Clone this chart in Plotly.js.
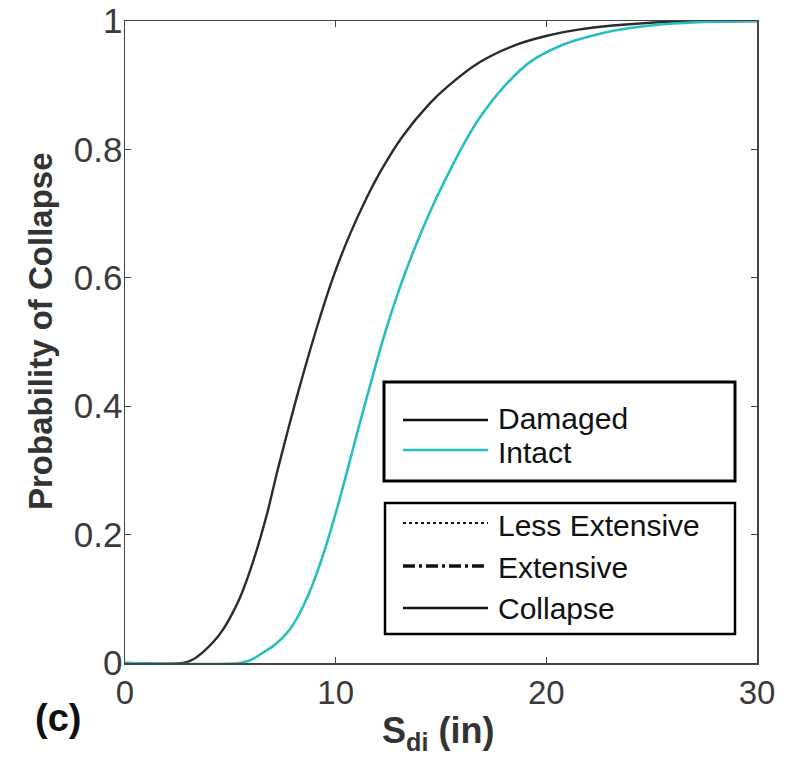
<!DOCTYPE html>
<html>
<head>
<meta charset="utf-8">
<script src="https://cdn.plot.ly/plotly-3.0.1.min.js"></script>
<style>html,body{margin:0;padding:0;background:#fff;}#chart{width:788px;height:760px;}</style>
</head>
<body>
<div id="chart"></div>
<script>
// Data
const damagedX = [0, 2.75, 3.2, 3.7, 4.2, 4.65, 5.06, 5.46, 6.08, 6.74, 7.21, 7.69, 8.16, 9.11, 9.87, 10.68, 11.49, 12.24, 13.19, 14.48, 15.28, 16.85, 18.41, 20.03, 21.59, 23.16, 24.77, 26.3, 30];
const damagedY = [0, 0, 0.005, 0.017, 0.033, 0.052, 0.075, 0.102, 0.158, 0.232, 0.296, 0.357, 0.415, 0.523, 0.6, 0.668, 0.726, 0.772, 0.821, 0.872, 0.897, 0.936, 0.961, 0.977, 0.987, 0.993, 0.997, 0.999, 1];
const intactX = [0, 5.46, 6.0, 6.55, 7.1, 7.69, 8.2, 8.78, 9.4, 10.06, 10.54, 11.01, 11.49, 12.24, 13.05, 13.86, 14.62, 15.42, 16.04, 16.85, 17.94, 19.22, 20.79, 22.4, 23.97, 25.53, 27.9, 30];
const intactY = [0, 0, 0.005, 0.016, 0.028, 0.047, 0.072, 0.112, 0.168, 0.24, 0.298, 0.357, 0.415, 0.503, 0.585, 0.655, 0.713, 0.767, 0.806, 0.85, 0.896, 0.936, 0.963, 0.979, 0.989, 0.995, 0.999, 1];
const xTicks = [0, 10, 20, 30];
const yTicks = [0, 0.2, 0.4, 0.6, 0.8, 1];
const yTickText = ['0', '0.2', '0.4', '0.6', '0.8', '1'];
const seriesNames = ['Damaged', 'Intact'];
const stateNames = ['Less Extensive', 'Extensive', 'Collapse'];

const BLACK = '#2b2b2b';
const CYAN = '#27bfbf';
const FONT = 'Liberation Sans, Arial, sans-serif';

// layout helpers (pixel -> paper)
const L = 125, R = 31, T = 21, B = 97, W = 788, H = 760;
const pw = W - L - R, ph = H - T - B;
const px = v => (v - L) / pw;
const py = v => (H - B - v) / ph;

const traces = [
  {x: damagedX, y: damagedY, name: seriesNames[0], mode: 'lines', line: {color: BLACK, width: 2.4, shape: 'spline', smoothing: 0.8}, showlegend: false},
  {x: intactX, y: intactY, name: seriesNames[1], mode: 'lines', line: {color: CYAN, width: 2.6, shape: 'spline', smoothing: 0.8}, showlegend: false}
];

const shapes = [
  {type: 'rect', xref: 'paper', yref: 'paper', x0: px(384), x1: px(735), y0: py(382), y1: py(481), line: {color: '#000', width: 3}, fillcolor: '#fff'},
  {type: 'rect', xref: 'paper', yref: 'paper', x0: px(385), x1: px(735), y0: py(503), y1: py(634), line: {color: '#000', width: 2.5}, fillcolor: '#fff'},
  {type: 'line', xref: 'paper', yref: 'paper', x0: px(403), x1: px(488), y0: py(420), y1: py(420), line: {color: '#111', width: 2.5}},
  {type: 'line', xref: 'paper', yref: 'paper', x0: px(403), x1: px(488), y0: py(450), y1: py(450), line: {color: CYAN, width: 2.5}},
  {type: 'line', xref: 'paper', yref: 'paper', x0: px(403), x1: px(488), y0: py(523), y1: py(523), line: {color: '#111', width: 2, dash: '3px,3px'}},
  {type: 'line', xref: 'paper', yref: 'paper', x0: px(403), x1: px(488), y0: py(566), y1: py(566), line: {color: '#111', width: 3.5, dash: '12px,4px,3px,4px'}},
  {type: 'line', xref: 'paper', yref: 'paper', x0: px(403), x1: px(488), y0: py(608), y1: py(608), line: {color: '#111', width: 2.5}}
];

const legText = (t, y) => ({text: t, xref: 'paper', yref: 'paper', x: px(496), y: py(y), xanchor: 'left', yanchor: 'middle', showarrow: false, font: {family: FONT, size: 30, color: '#111'}});

const annotations = [
  legText(seriesNames[0], 418),
  legText(seriesNames[1], 452),
  legText(stateNames[0], 525),
  legText(stateNames[1], 567),
  legText(stateNames[2], 608),
  {text: '<b>Probability of Collapse</b>', xref: 'paper', yref: 'paper', x: px(40), y: py(331), textangle: -90, xanchor: 'center', yanchor: 'middle', showarrow: false, font: {family: FONT, size: 33, color: '#333'}},
  {text: '<b>S<sub>di</sub> (in)</b>', xref: 'paper', yref: 'paper', x: px(438), y: py(733), xanchor: 'center', yanchor: 'middle', showarrow: false, font: {family: FONT, size: 36, color: '#333'}},
  {text: '<b>(c)</b>', xref: 'paper', yref: 'paper', x: px(58), y: py(718), xanchor: 'center', yanchor: 'middle', showarrow: false, font: {family: FONT, size: 38, color: '#111'}}
];

const axisCommon = {
  showgrid: false, zeroline: false, showline: true, linecolor: '#444', linewidth: 1.5,
  mirror: 'ticks', ticks: 'inside', ticklen: 6, tickwidth: 1.3, tickcolor: '#444',
  fixedrange: true
};

const layout = {
  width: W, height: H,
  margin: {l: L, r: R, t: T, b: B, pad: 0},
  paper_bgcolor: '#fff', plot_bgcolor: '#fff',
  showlegend: false,
  xaxis: Object.assign({}, axisCommon, {range: [0, 30], tickmode: 'array', tickvals: xTicks, ticktext: xTicks.map(String), tickfont: {family: FONT, size: 33, color: '#3a3a3a'}}),
  yaxis: Object.assign({}, axisCommon, {range: [0, 1], tickmode: 'array', tickvals: yTicks, ticktext: yTickText, tickfont: {family: FONT, size: 35, color: '#3a3a3a'}, ticklabelstandoff: -6}),
  shapes: shapes,
  annotations: annotations
};

Plotly.newPlot('chart', traces, layout, {displayModeBar: false, staticPlot: true});
</script>
</body>
</html>
